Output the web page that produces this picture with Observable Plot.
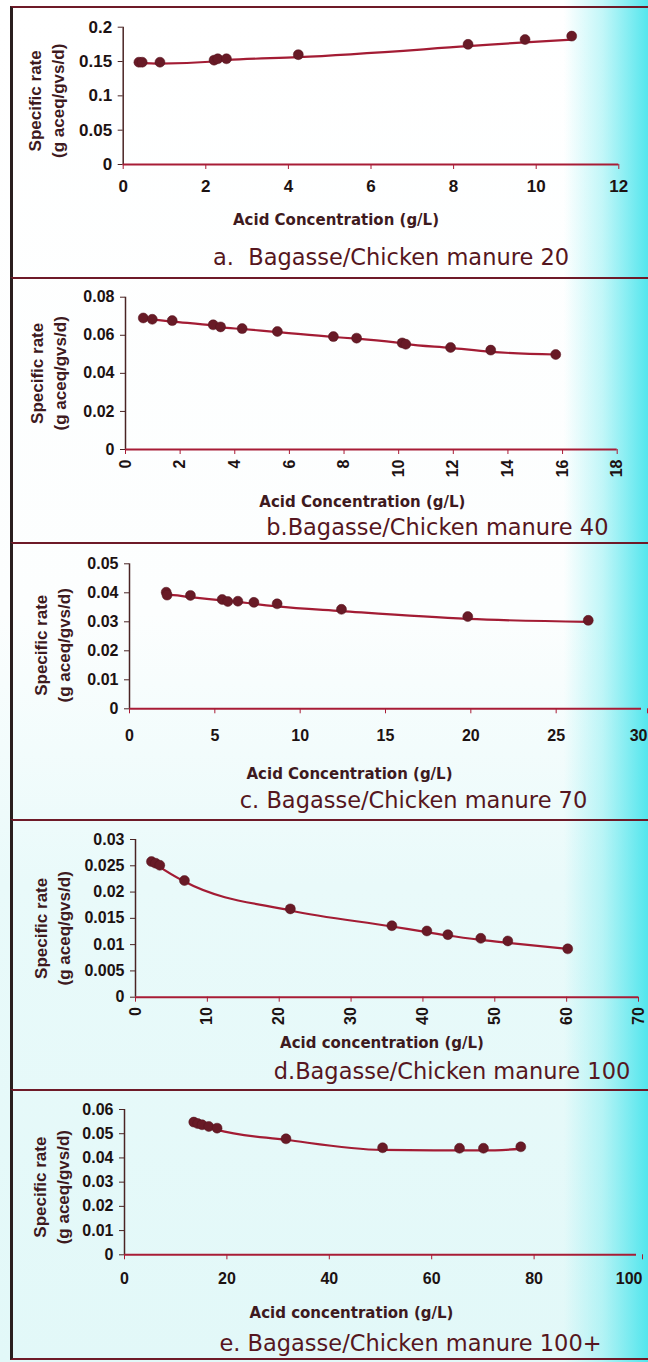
<!DOCTYPE html>
<html>
<head>
<meta charset="utf-8">
<script src="https://cdn.jsdelivr.net/npm/d3@7"></script>
<script src="https://cdn.jsdelivr.net/npm/@observablehq/plot@0.6"></script>
<style>
  html, body { margin: 0; padding: 0; }
  body {
    width: 648px; height: 1362px; position: relative; overflow: hidden;
    background:
      linear-gradient(to right, rgba(120,236,240,0) 0%, rgba(120,236,240,0) 87%, rgba(120,236,240,0.45) 93%, rgba(70,228,236,0.92) 100%),
      linear-gradient(to bottom, #ffffff 0%, #fcfefe 45%, #e9fafa 65%, #e2f8f8 100%);
  }
  .panel { position: absolute; left: 10px; width: 660px; border-top: 2px solid #6e1a28; border-left: 3px solid #2a1e1e; box-sizing: border-box; }
  .last { border-bottom: 2px solid #6e1a28; }
  .plotbox { position: absolute; left: 0; }
</style>
</head>
<body>
<div id="root"></div>
<script>
// ---- data ----
const concA = [0.38, 0.46, 0.89, 2.20, 2.29, 2.50, 4.24, 8.35, 9.73, 10.86];
const rateA = [0.149, 0.149, 0.149, 0.152, 0.154, 0.154, 0.160, 0.175, 0.182, 0.187];
const fitA  = [0.1476, 0.1476, 0.147, 0.150, 0.151, 0.152, 0.1563, 0.1723, 0.178, 0.182];

const concB = [0.65, 0.98, 1.71, 3.21, 3.48, 4.27, 5.56, 7.61, 8.46, 10.13, 10.26, 11.90, 13.37, 15.75];
const rateB = [0.0691, 0.0684, 0.0677, 0.0655, 0.0644, 0.0635, 0.0620, 0.0593, 0.0585, 0.0560, 0.0553, 0.0536, 0.0522, 0.0499];
const fitB  = [0.0690, 0.0684, 0.0672, 0.0650, 0.0643, 0.0633, 0.0617, 0.0591, 0.0582, 0.0558, 0.0555, 0.0534, 0.0513, 0.0499];

const concC = [2.15, 2.20, 3.57, 5.43, 5.76, 6.35, 7.29, 8.65, 12.42, 19.82, 26.88];
const rateC = [0.0402, 0.0392, 0.0391, 0.0377, 0.0370, 0.0371, 0.0367, 0.0362, 0.0343, 0.0318, 0.0305];
const fitC  = [0.0394, 0.0394, 0.0385, 0.0374, 0.0372, 0.0369, 0.0362, 0.0353, 0.0337, 0.0310, 0.0300];

const concD = [2.22, 2.78, 3.38, 6.81, 21.55, 35.68, 40.55, 43.47, 48.05, 51.81, 60.15];
const rateD = [0.0258, 0.0255, 0.0251, 0.0222, 0.0168, 0.0136, 0.0126, 0.0119, 0.0112, 0.0107, 0.0092];
const fitD  = [0.0258, 0.0254, 0.0248, 0.0220, 0.0165, 0.01345, 0.01237, 0.01174, 0.01091, 0.01034, 0.0092];

const concE = [13.53, 14.30, 15.15, 16.46, 18.08, 31.54, 50.41, 65.43, 70.11, 77.40];
const rateE = [0.0548, 0.0542, 0.0537, 0.0530, 0.0523, 0.0479, 0.0442, 0.0440, 0.0440, 0.0446];
const fitE  = [0.0545, 0.0540, 0.0534, 0.0526, 0.0516, 0.0475, 0.0433, 0.0431, 0.0431, 0.0437];

// tick values
const xTicksA = [0, 2, 4, 6, 8, 10, 12];
const yTicksA = [0, 0.05, 0.1, 0.15, 0.2];
const xTicksB = [0, 2, 4, 6, 8, 10, 12, 14, 16, 18];
const yTicksB = [0, 0.02, 0.04, 0.06, 0.08];
const xTicksC = [0, 5, 10, 15, 20, 25, 30];
const yTicksC = [0, 0.01, 0.02, 0.03, 0.04, 0.05];
const xTicksD = [0, 10, 20, 30, 40, 50, 60, 70];
const yTicksD = [0, 0.005, 0.01, 0.015, 0.02, 0.025, 0.03];
const xTicksE = [0, 20, 40, 60, 80, 100];
const yTicksE = [0, 0.01, 0.02, 0.03, 0.04, 0.05, 0.06];

// texts
const yTitle = "Specific rate\n(g aceq/gvs/d)";
const xTitles = ["Acid Concentration (g/L)", "Acid Concentration (g/L)", "Acid Concentration (g/L)", "Acid concentration (g/L)", "Acid concentration (g/L)"];
const captions = ["a.  Bagasse/Chicken manure 20", "b.Bagasse/Chicken manure 40", "c. Bagasse/Chicken manure 70", "d.Bagasse/Chicken manure 100", "e. Bagasse/Chicken manure 100+"];

// ---- layout / style ----
const layout = [
  {top: 6,    h: 271, mt: 20.7, mb: 113,   ml: 122.7, mr: 29.7, xMax: 12,  yMax: 0.2,  rot: 0,   xPad: 10, fs: 17, yt: [-78, 5],  xl: [-35, 56],  cap: [20, 93], lastEnd: false},
  {top: 277,  h: 265, mt: 19.7, mb: 93,    ml: 125,   mr: 31.3, xMax: 18,  yMax: 0.08, rot: -90, xPad: 5,  fs: 16, yt: [-78, 0],  xl: [-9, 53],   cap: [66, 78], lastEnd: false},
  {top: 542,  h: 277, mt: 21.3, mb: 110.7, ml: 129,   mr: 7,    xMax: 30,  yMax: 0.05, rot: 0,   xPad: 16, fs: 16, yt: [-78, 9],  xl: [-36, 65],  cap: [28, 92], lastEnd: true},
  {top: 819,  h: 270, mt: 20,   mb: 92.3,  ml: 135,   mr: 10,   xMax: 70,  yMax: 0.03, rot: -90, xPad: 5,  fs: 16, yt: [-84, 10], xl: [-5, 46],   cap: [65, 75], lastEnd: false},
  {top: 1089, h: 271, mt: 20,   mb: 105.7, ml: 124,   mr: 12,   xMax: 100, yMax: 0.06, rot: 0,   xPad: 13, fs: 16, yt: [-74, 5],  xl: [-29, 58],  cap: [30, 89], lastEnd: true}
];
const series = [
  {conc: concA, rate: rateA, fit: fitA, xt: xTicksA, yt: yTicksA},
  {conc: concB, rate: rateB, fit: fitB, xt: xTicksB, yt: yTicksB},
  {conc: concC, rate: rateC, fit: fitC, xt: xTicksC, yt: yTicksC},
  {conc: concD, rate: rateD, fit: fitD, xt: xTicksD, yt: yTicksD},
  {conc: concE, rate: rateE, fit: fitE, xt: xTicksE, yt: yTicksE}
];

const lineColor = "#a31c34";
const dotColor = "#681a26";
const axisXColor = "#a81c36";
const axisYColor = "#4a2424";
const tickText = "#1c1212";
const labelColor = "#3e1a1e";
const captionColor = "#561620";

layout.forEach((L, i) => {
  const S = series[i];
  const pts = S.conc.map((c, j) => ({c, r: S.rate[j]}));
  const fit = S.conc.map((c, j) => ({c, r: S.fit[j]}));

  const panel = document.createElement("div");
  panel.className = "panel" + (i === layout.length - 1 ? " last" : "");
  panel.style.top = L.top + "px";
  panel.style.height = L.h + "px";
  document.body.appendChild(panel);

  // the last x tick label sits at the picture's right edge: anchor it at its end so it stays readable
  const mainXTicks = L.lastEnd ? S.xt.slice(0, -1) : S.xt;
  const edgeXTicks = L.lastEnd ? S.xt.slice(-1) : [];

  const chart = Plot.plot({
    width: 648,
    height: L.h,
    marginTop: L.mt,
    marginBottom: L.mb,
    marginLeft: L.ml,
    marginRight: L.mr,
    style: {fontFamily: "'Liberation Sans', Arial, sans-serif", fontWeight: "bold", fontSize: L.fs + "px", background: "transparent", overflow: "hidden"},
    x: {domain: [0, L.xMax], nice: false},
    y: {domain: [0, L.yMax], nice: false},
    marks: [
      Plot.axisY({ticks: S.yt, tickFormat: d => String(d), tickSize: 5, tickPadding: 6, stroke: axisYColor, fill: tickText, label: null}),
      Plot.axisX({ticks: mainXTicks, tickFormat: d => String(d), tickSize: 5, tickPadding: L.xPad, tickRotate: L.rot, stroke: axisXColor, fill: tickText, label: null}),
      ...(edgeXTicks.length ? [Plot.axisX({ticks: edgeXTicks, tickFormat: d => String(d), tickSize: 5, tickPadding: L.xPad, textAnchor: "end", dx: 6, stroke: axisXColor, fill: tickText, label: null})] : []),
      Plot.ruleX([0], {stroke: axisYColor, strokeWidth: 1.5}),
      Plot.ruleY([0], {stroke: axisXColor, strokeWidth: 2}),
      Plot.line(fit, {x: "c", y: "r", curve: "monotone-x", stroke: lineColor, strokeWidth: 2.2}),
      Plot.dot(pts, {x: "c", y: "r", r: 5, fill: dotColor, stroke: "#56141e", strokeWidth: 0.5}),
      Plot.text([yTitle], {text: d => d, frameAnchor: "left", rotate: -90, dx: L.yt[0], dy: L.yt[1], lineAnchor: "middle", textAnchor: "middle", lineHeight: 1.35, fontSize: 17, fontWeight: "bold", fill: labelColor}),
      Plot.text([xTitles[i]], {text: d => d, frameAnchor: "bottom", dx: L.xl[0], dy: L.xl[1], lineAnchor: "middle", fontSize: 15, fontWeight: "bold", fontFamily: "'DejaVu Sans', sans-serif", fill: labelColor}),
      Plot.text([captions[i]], {text: d => d, frameAnchor: "bottom", dx: L.cap[0], dy: L.cap[1], lineAnchor: "middle", fontSize: 22.5, fontWeight: "normal", fontFamily: "'DejaVu Sans', sans-serif", fill: captionColor})
    ]
  });
  const box = document.createElement("div");
  box.className = "plotbox";
  box.style.top = L.top + "px";
  box.appendChild(chart);
  document.body.appendChild(box);
});
</script>
</body>
</html>
